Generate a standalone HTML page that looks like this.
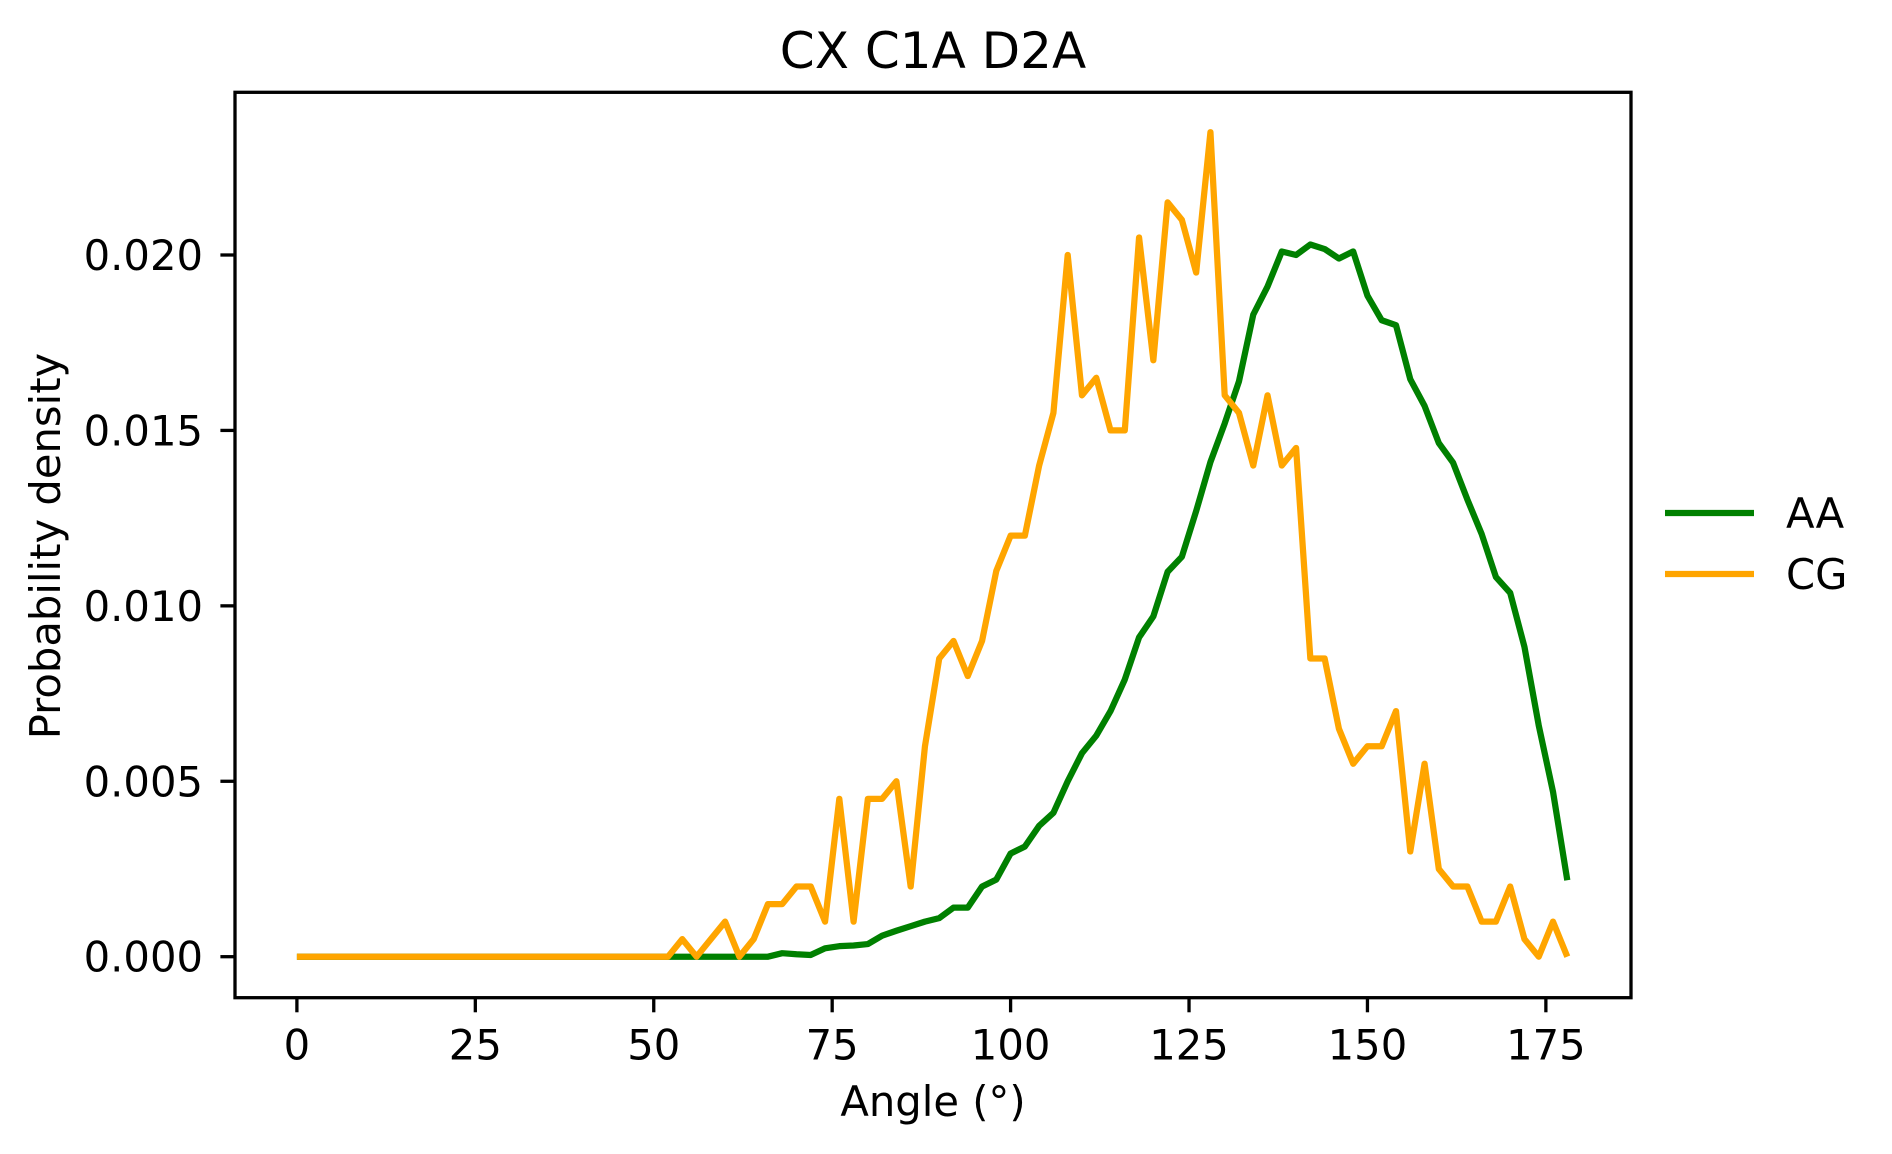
<!DOCTYPE html>
<html><head><meta charset="utf-8"><style>
html,body{margin:0;padding:0;background:#fff;}
svg{display:block;font-family:"DejaVu Sans","Liberation Sans",sans-serif;}
</style></head><body>
<svg id="chart" width="1892" height="1154" viewBox="0 0 1892 1154" xmlns="http://www.w3.org/2000/svg">
<rect width="1892" height="1154" fill="#fff"/>
<text x="933" y="68" font-size="50" text-anchor="middle">CX C1A D2A</text>
<g id="plot"></g>
<g id="xticks"></g>
<g id="yticks"></g>
<rect x="235" y="92.3" width="1396" height="905.4" fill="none" stroke="#000" stroke-width="3.3"/>
<text x="933" y="1116" font-size="41.7" text-anchor="middle">Angle (°)</text>
<text transform="translate(60,546) rotate(-90)" font-size="41.7" text-anchor="middle">Probability density</text>
<g>
<line x1="1665" y1="513" x2="1754" y2="513" stroke="#008000" stroke-width="6.25"/>
<text x="1786" y="528" font-size="41.7">AA</text>
<line x1="1665" y1="574" x2="1754" y2="574" stroke="#FFA500" stroke-width="6.25"/>
<text x="1786" y="589" font-size="41.7">CG</text>
</g>
</svg>
<script>
const angles = [];
for (let a = 0; a <= 178; a += 2) angles.push(a);
const aaValues = [0,0,0,0,0,0,0,0,0,0,0,0,0,0,0,0,0,0,0,0,0,0,0,0,0,0,0,0,0,0,0,0,0,0,0.0001,0.00007,0.00005,0.00024,0.0003,0.00032,0.00036,0.0006,0.00074,0.00087,0.001,0.0011,0.0014,0.0014,0.002,0.0022,0.00294,0.00314,0.00373,0.0041,0.005,0.0058,0.0063,0.007,0.0079,0.0091,0.0097,0.01097,0.0114,0.0127,0.0141,0.0152,0.0164,0.0183,0.0191,0.0201,0.0200,0.0203,0.02017,0.0199,0.0201,0.01884,0.01814,0.0180,0.01646,0.0157,0.01464,0.01408,0.01303,0.01205,0.01082,0.01037,0.00883,0.00659,0.0047,0.00218];
const cgValues = [0,0,0,0,0,0,0,0,0,0,0,0,0,0,0,0,0,0,0,0,0,0,0,0,0,0,0,0.0005,0,0.0005,0.001,0,0.0005,0.0015,0.0015,0.002,0.002,0.001,0.0045,0.001,0.0045,0.0045,0.005,0.002,0.006,0.0085,0.009,0.008,0.009,0.011,0.012,0.012,0.014,0.0155,0.020,0.016,0.0165,0.015,0.015,0.0205,0.017,0.0215,0.021,0.0195,0.0235,0.016,0.0155,0.014,0.016,0.014,0.0145,0.0085,0.0085,0.0065,0.0055,0.006,0.006,0.007,0.003,0.0055,0.0025,0.002,0.002,0.001,0.001,0.002,0.0005,0,0.001,0];
const xTickValues = [0,25,50,75,100,125,150,175];
const yTickValues = [0,0.005,0.010,0.015,0.020];
const yTickLabels = ["0.000","0.005","0.010","0.015","0.020"];

const NS = "http://www.w3.org/2000/svg";
function xScale(v){ return 296.9 + v * 7.137; }
function yScale(v){ return 956.7 - v * 35085; }

const xt = document.getElementById('xticks');
xTickValues.forEach((v,i)=>{
  const x = xScale(v);
  const l = document.createElementNS(NS,'line');
  l.setAttribute('x1',x); l.setAttribute('x2',x);
  l.setAttribute('y1',997.7); l.setAttribute('y2',1012.3);
  l.setAttribute('stroke','#000'); l.setAttribute('stroke-width','3.3');
  
  
  xt.appendChild(l);
  const t = document.createElementNS(NS,'text');
  t.setAttribute('x',x); t.setAttribute('y',1059.3);
  t.setAttribute('font-size','41.7'); t.setAttribute('text-anchor','middle');
  t.textContent = String(v);
  
  
  xt.appendChild(t);
});
const yt = document.getElementById('yticks');
yTickValues.forEach((v,i)=>{
  const y = yScale(v);
  const l = document.createElementNS(NS,'line');
  l.setAttribute('x1',220.4); l.setAttribute('x2',235);
  l.setAttribute('y1',y); l.setAttribute('y2',y);
  l.setAttribute('stroke','#000'); l.setAttribute('stroke-width','3.3');
  
  
  yt.appendChild(l);
  const t = document.createElementNS(NS,'text');
  t.setAttribute('x',203); t.setAttribute('y',y+15);
  t.setAttribute('font-size','41.7'); t.setAttribute('text-anchor','end');
  t.textContent = yTickLabels[i];
  
  
  yt.appendChild(t);
});
const plot = document.getElementById('plot');
function drawSeries(vals, color, name){
  const p = document.createElementNS(NS,'polyline');
  p.setAttribute('points', vals.map((v,i)=>xScale(angles[i]).toFixed(2)+','+yScale(v).toFixed(2)).join(' '));
  p.setAttribute('fill','none'); p.setAttribute('stroke',color);
  p.setAttribute('stroke-width','6.25'); p.setAttribute('stroke-linejoin','round');
  
  
  plot.appendChild(p);
}
drawSeries(aaValues,'#008000','line-aa');
drawSeries(cgValues,'#FFA500','line-cg');
</script>
</body></html>
